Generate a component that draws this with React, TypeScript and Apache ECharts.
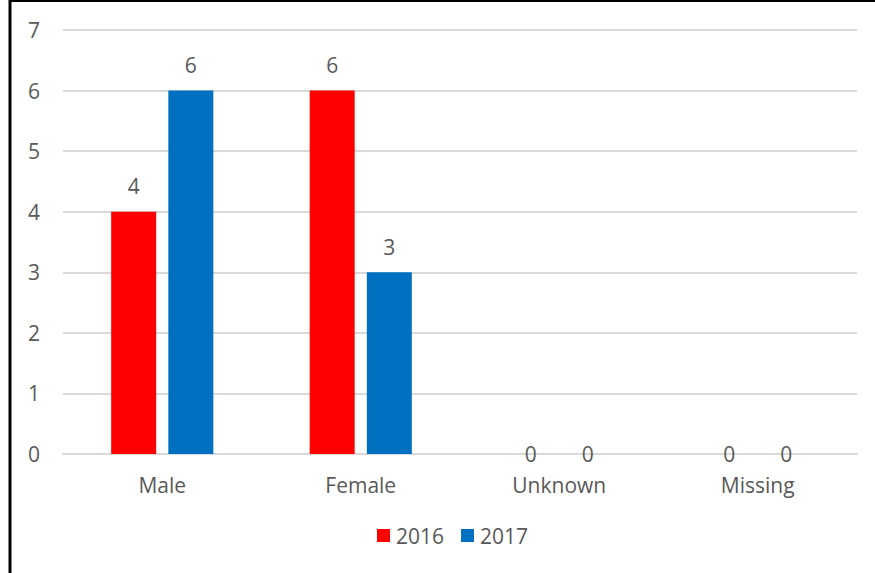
import React, { useEffect, useRef } from "react";
import * as echarts from "echarts";

const categories = ["Male", "Female", "Unknown", "Missing"];
const series2016 = [4, 6, 0, 0];
const series2017 = [6, 3, 0, 0];
const seriesNames = ["2016", "2017"];
const colors = ["#FF0000", "#0070C0"];

const FONT = "'Open Sans', sans-serif";
const TEXT = "#595959";
const FS = 21;

function toItems(values: number[]) {
  return values.map((v) =>
    v === 0 ? { value: v, label: { position: "inside" as const, distance: 0 } } : { value: v }
  );
}

export default function App() {
  const ref = useRef<HTMLDivElement>(null);
  useEffect(() => {
    document.body.style.margin = "0";
    const chart = echarts.init(ref.current!, null, { renderer: "svg" });
    const label = {
      show: true,
      position: "top" as const,
      distance: 15,
      color: TEXT,
      fontSize: FS,
      fontFamily: FONT,
    };
    chart.setOption({
      animation: false,
      backgroundColor: "#ffffff",
      textStyle: { fontFamily: FONT },
      graphic: [
        { type: "line", shape: { x1: 10, y1: 0, x2: 10, y2: 573 }, style: { stroke: "#000", lineWidth: 3 } },
        { type: "line", shape: { x1: 9, y1: 1, x2: 875, y2: 1 }, style: { stroke: "#000", lineWidth: 2 } },
      ],
      grid: { left: 63, right: 18, top: 30, bottom: 119 },
      legend: {
        bottom: 22,
        left: 372,
        itemWidth: 13,
        itemHeight: 13,
        itemGap: 17,
        icon: "rect",
        textStyle: { color: TEXT, fontSize: FS, fontFamily: FONT, padding: [0, 0, 0, 1] },
        data: seriesNames,
      },
      xAxis: {
        type: "category",
        data: categories,
        axisLine: { lineStyle: { color: "#D9D9D9", width: 2 } },
        axisTick: { show: false },
        axisLabel: { color: TEXT, fontSize: FS, fontFamily: FONT, margin: 20 },
      },
      yAxis: {
        type: "value",
        min: 0,
        max: 7,
        interval: 1,
        axisLine: { show: false },
        axisTick: { show: false },
        splitLine: { lineStyle: { color: "#D9D9D9", width: 2 } },
        axisLabel: { color: TEXT, fontSize: FS, fontFamily: FONT, margin: 23 },
      },
      series: [
        {
          name: seriesNames[0],
          type: "bar",
          data: toItems(series2016),
          itemStyle: { color: colors[0] },
          barWidth: 45,
          barGap: "27%",
          label,
        },
        {
          name: seriesNames[1],
          type: "bar",
          data: toItems(series2017),
          itemStyle: { color: colors[1] },
          barWidth: 45,
          barGap: "27%",
          label,
        },
      ],
    });
    return () => chart.dispose();
  }, []);
  return <div ref={ref} style={{ width: 875, height: 573 }} />;
}
